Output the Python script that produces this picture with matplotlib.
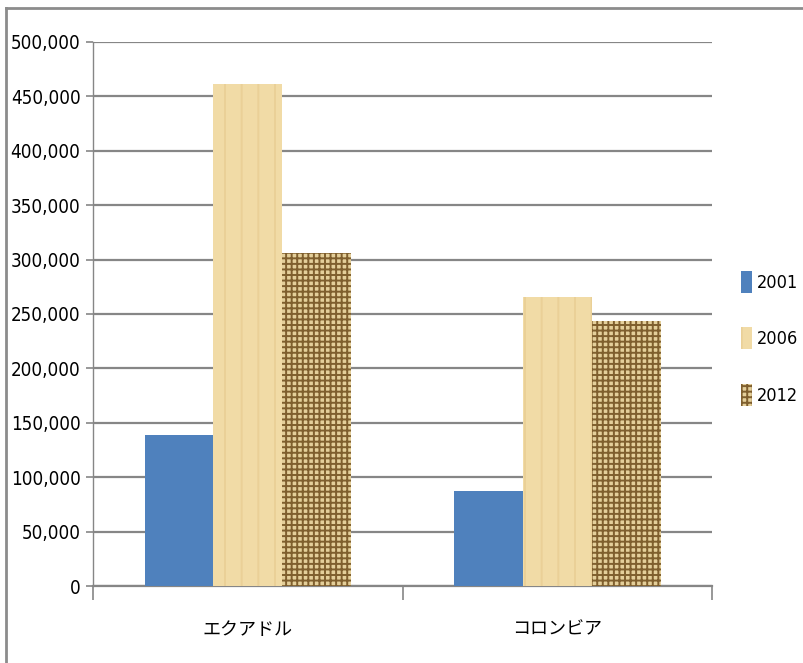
import matplotlib.pyplot as plt
import numpy as np
from matplotlib.lines import Line2D
from matplotlib.ticker import FuncFormatter

plt.rcParams["font.family"] = ["DejaVu Sans", "Noto Sans CJK JP"]
plt.rcParams["font.stretch"] = "condensed"
plt.rcParams["hatch.linewidth"] = 1.4

CATEGORIES = ["エクアドル", "コロンビア"]
YEARS = ["2001", "2006", "2012"]
VALUES = {
    "2001": [139000, 87000],
    "2006": [461000, 266000],
    "2012": [306000, 244000],
}
Y_TICKS = list(range(0, 500001, 50000))

STYLES = {
    "2001": dict(color="#4f81bd"),
    "2006": dict(color="#f1dba6", hatch="|", edgecolor="#ead097"),
    "2012": dict(color="#e4cf9a", hatch="+++", edgecolor="#7f5f2e"),
}

GRID = "#868686"

fig = plt.figure(figsize=(8.04, 6.63), dpi=100)
ax = fig.add_axes([0.1157, 0.1161, 0.770, 0.8206])

x = np.arange(len(CATEGORIES))
width = 1 / 4.5
for i, yr in enumerate(YEARS):
    ax.bar(x + (i - 1) * width, VALUES[yr], width, label=yr, linewidth=0,
           zorder=3, **STYLES[yr])

ax.set_xlim(-0.5, len(CATEGORIES) - 0.5)
ax.set_ylim(0, 500000)
ax.set_yticks(Y_TICKS)
ax.yaxis.set_major_formatter(FuncFormatter(lambda v, p: f"{int(v):,}"))
ax.set_xticks(x)
ax.set_xticklabels(CATEGORIES, family=["Noto Sans CJK JP"], fontsize=13)
ax.set_xticks(np.arange(-0.5, len(CATEGORIES), 1), minor=True)
ax.tick_params(axis="x", which="major", length=0, pad=25)
ax.tick_params(axis="x", which="minor", length=10, color=GRID, width=1.2)
ax.tick_params(axis="y", length=5, color=GRID, width=1.2, labelsize=13.5, pad=4)
ax.grid(axis="y", color=GRID, linewidth=1.6, zorder=0)
for s in ["top", "right"]:
    ax.spines[s].set_visible(False)
for s in ["left", "bottom"]:
    ax.spines[s].set_color(GRID)
    ax.spines[s].set_linewidth(1.6)
ax.spines["left"].set_linewidth(1.0)

ax.legend(loc="center left", bbox_to_anchor=(1.02, 0.455), frameon=False,
          fontsize=13, handlelength=0.6, handleheight=1.5, handletextpad=0.3,
          labelspacing=1.9)

# chart frame (top and left edges visible)
fig.add_artist(Line2D([0.0075, 0.0075], [0, 0.988], color="#8c8c8c", lw=2,
                      transform=fig.transFigure))
fig.add_artist(Line2D([0.0075, 1], [0.988, 0.988], color="#8c8c8c", lw=2,
                      transform=fig.transFigure))

fig.savefig("out.png", dpi=100)
